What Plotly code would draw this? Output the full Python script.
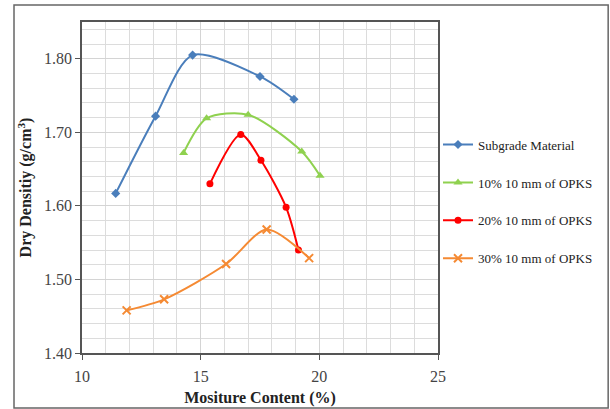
import plotly.graph_objects as go

# Data
series_names = ["Subgrade Material", "10% 10 mm of OPKS", "20% 10 mm of OPKS", "30% 10 mm of OPKS"]

subgrade_x = [11.42, 13.10, 14.66, 17.50, 18.93]
subgrade_y = [1.617, 1.722, 1.805, 1.776, 1.745]

opks10_x = [14.28, 15.25, 17.00, 19.26, 20.03]
opks10_y = [1.672, 1.719, 1.724, 1.674, 1.641]

opks20_x = [15.39, 16.69, 17.54, 18.60, 19.12]
opks20_y = [1.630, 1.697, 1.662, 1.598, 1.540]

opks30_x = [11.88, 13.46, 16.07, 17.78, 19.57]
opks30_y = [1.458, 1.473, 1.521, 1.568, 1.529]

colors = ["#4a7ebb", "#8fd14f", "#ff0000", "#f58a33"]
symbols = ["diamond", "triangle-up", "circle", "x-thin-open"]
sizes = [7, 8, 7, 8]

xs = [subgrade_x, opks10_x, opks20_x, opks30_x]
ys = [subgrade_y, opks10_y, opks20_y, opks30_y]

fig = go.Figure()
for i in range(4):
    marker = dict(symbol=symbols[i], size=sizes[i], color=colors[i])
    if symbols[i].endswith("open"):
        marker["line"] = dict(color=colors[i], width=2)
    fig.add_trace(go.Scatter(
        x=xs[i], y=ys[i], name=series_names[i], mode="lines+markers",
        line=dict(color=colors[i], width=2, shape="spline", smoothing=0.8),
        marker=marker, legendgroup=str(i),
    ))

font_family = "Liberation Serif, Times New Roman, serif"
axis_common = dict(
    showline=True, linecolor="#555555", linewidth=1.5, mirror=True,
    ticks="outside", ticklen=5, tickcolor="#555555",
    showgrid=True, gridcolor="#d4d4d4", gridwidth=1,
    zeroline=False, automargin=False,
    tickfont=dict(family=font_family, size=16, color="#444444"),
)

fig.update_xaxes(
    range=[10, 25], dtick=5, tick0=10, ticklabelstandoff=3,
    minor=dict(dtick=1, showgrid=True, gridcolor="#dcdcdc", gridwidth=1, ticks=""),
    title=dict(text="<b>Mositure Content (%)</b>", font=dict(family=font_family, size=16, color="#222222"), standoff=8),
    **axis_common,
)
fig.update_yaxes(
    range=[1.40, 1.85], dtick=0.1, tick0=1.4, tickformat=".2f",
    minor=dict(dtick=0.02, showgrid=True, gridcolor="#dcdcdc", gridwidth=1, ticks=""),
    title=dict(text="<b>Dry Densitiy (g/cm<sup>3</sup>)</b>", font=dict(family=font_family, size=16, color="#222222"), standoff=8),
    **axis_common,
)

# outer chart border
fig.add_shape(type="rect", xref="paper", yref="paper",
              x0=-0.191, x1=1.478, y0=-0.166, y1=1.051,
              line=dict(color="#666666", width=1.5), layer="below")

fig.update_layout(
    width=610, height=409,
    margin=dict(l=82, r=172, t=22, b=56, autoexpand=False),
    paper_bgcolor="white", plot_bgcolor="white",
    showlegend=True,
    legend=dict(
        x=1.0, y=0.675, xanchor="left", yanchor="top",
        font=dict(family=font_family, size=13, color="#222222"),
        tracegroupgap=18, traceorder="grouped",
        itemwidth=30, bgcolor="rgba(0,0,0,0)",
    ),
)

fig.write_html("out.html", config={"displayModeBar": False},
               post_script="document.body.style.margin='0px';")
